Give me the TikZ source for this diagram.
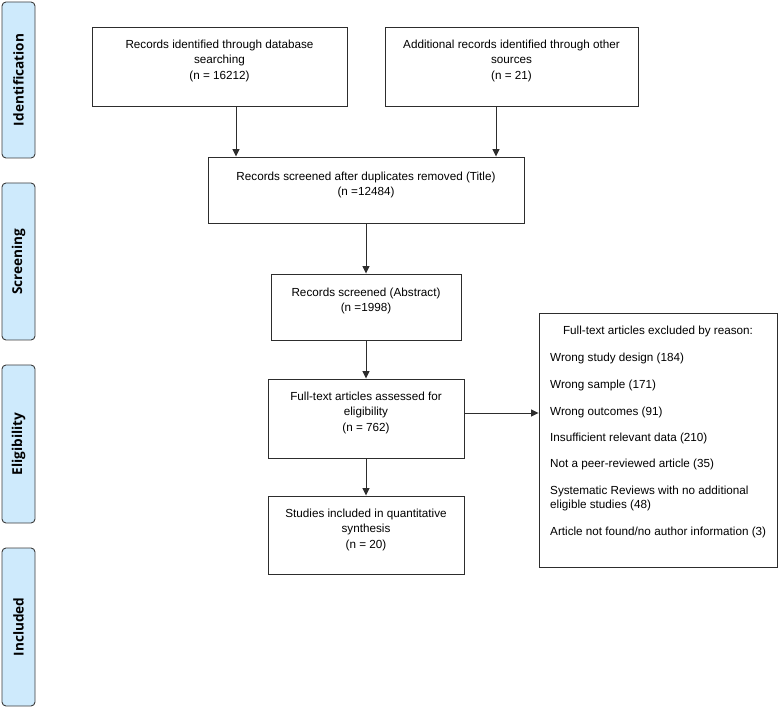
\documentclass[tikz,border=0pt]{standalone}
\usepackage{fontspec}
\setmainfont{Liberation Sans}
\newfontfamily\sidefont{Open Sans}
\usetikzlibrary{arrows.meta}
\definecolor{sidefill}{RGB}{206,234,252}
\definecolor{sidedraw}{RGB}{60,60,60}
\definecolor{linecol}{RGB}{45,45,45}
\tikzset{
  box/.style={draw=linecol, line width=0.9pt, inner sep=0pt},
  txt/.style={anchor=north, align=center, inner sep=0pt, font=\fontsize{11.7}{15.5}\selectfont},
  extxt/.style={anchor=north west, align=left, inner sep=0pt, font=\fontsize{11.7}{14.5}\selectfont},
  sidebar/.style={draw=sidedraw, fill=sidefill, line width=0.9pt, rounded corners=4pt, rotate=90,
    minimum height=33pt, inner sep=0pt, font=\sidefont\bfseries\fontsize{13.6}{15}\selectfont},
  arr/.style={draw=linecol, line width=1pt, -{Triangle[length=7.5pt,width=7pt]}}
}
\begin{document}
\begin{tikzpicture}[x=1pt,y=-1pt]
\useasboundingbox (0,0) rectangle (779,708);
% side bars
\node[sidebar, minimum width=156pt] (s1) at (18.5,80) {Identification};
\node[sidebar, minimum width=157pt] (s2) at (18.5,261.5) {Screening};
\node[sidebar, minimum width=158pt] (s3) at (18.5,444) {Eligibility};
\node[sidebar, minimum width=158pt] (s4) at (18.5,627) {Included};
% boxes
\node[box, minimum width=255pt, minimum height=79pt] (b1) at (219.5,66.5) {};
\node[txt] (t1) at (219.5,39.6) {Records identified through database\\searching\\(n = 16212)};
\node[box, minimum width=253pt, minimum height=79pt] (b2) at (511.5,66.5) {};
\node[txt] (t2) at (511.5,39.6) {Additional records identified through other\\sources\\(n = 21)};
\node[box, minimum width=316pt, minimum height=66pt] (b3) at (366,190) {};
\node[txt] (t3) at (366,171.6) {Records screened after duplicates removed (Title)\\(n =12484)};
\node[box, minimum width=190pt, minimum height=66pt] (b4) at (366,307) {};
\node[txt] (t4) at (366,287.6) {Records screened (Abstract)\\(n =1998)};
\node[box, minimum width=196pt, minimum height=79pt] (b5) at (366,418.5) {};
\node[txt] (t5) at (366,391.6) {Full-text articles assessed for\\eligibility\\(n = 762)};
\node[box, minimum width=196pt, minimum height=78pt] (b6) at (366,535) {};
\node[txt] (t6) at (366,508.6) {Studies included in quantitative\\synthesis\\(n = 20)};
\node[box, minimum width=238pt, minimum height=254pt] (ex) at (658,440) {};
\node[txt] (e0) at (658,325.6) {Full-text articles excluded by reason:};
\node[extxt] (e1) at (550,353.3) {Wrong study design (184)};
\node[extxt] (e2) at (550,379.6) {Wrong sample (171)};
\node[extxt] (e3) at (550,406.6) {Wrong outcomes (91)};
\node[extxt] (e4) at (550,432.9) {Insufficient relevant data (210)};
\node[extxt] (e5) at (550,458.9) {Not a peer-reviewed article (35)};
\node[extxt] (e6) at (550,485.6) {Systematic Reviews with no additional\\eligible studies (48)};
\node[extxt] (e7) at (550,526.6) {Article not found/no author information (3)};
% connectors
\coordinate (a1) at (236,0);
\coordinate (a2) at (496,0);
\coordinate (ey) at (0,413);
\draw[arr] (b1.south -| a1) -- (b3.north -| a1);
\draw[arr] (b2.south -| a2) -- (b3.north -| a2);
\draw[arr] (b3.south) -- (b4.north);
\draw[arr] (b4.south) -- (b5.north);
\draw[arr] (b5.south) -- (b6.north);
\draw[arr] (b5.east |- ey) -- (ex.west |- ey);
\end{tikzpicture}
\end{document}
